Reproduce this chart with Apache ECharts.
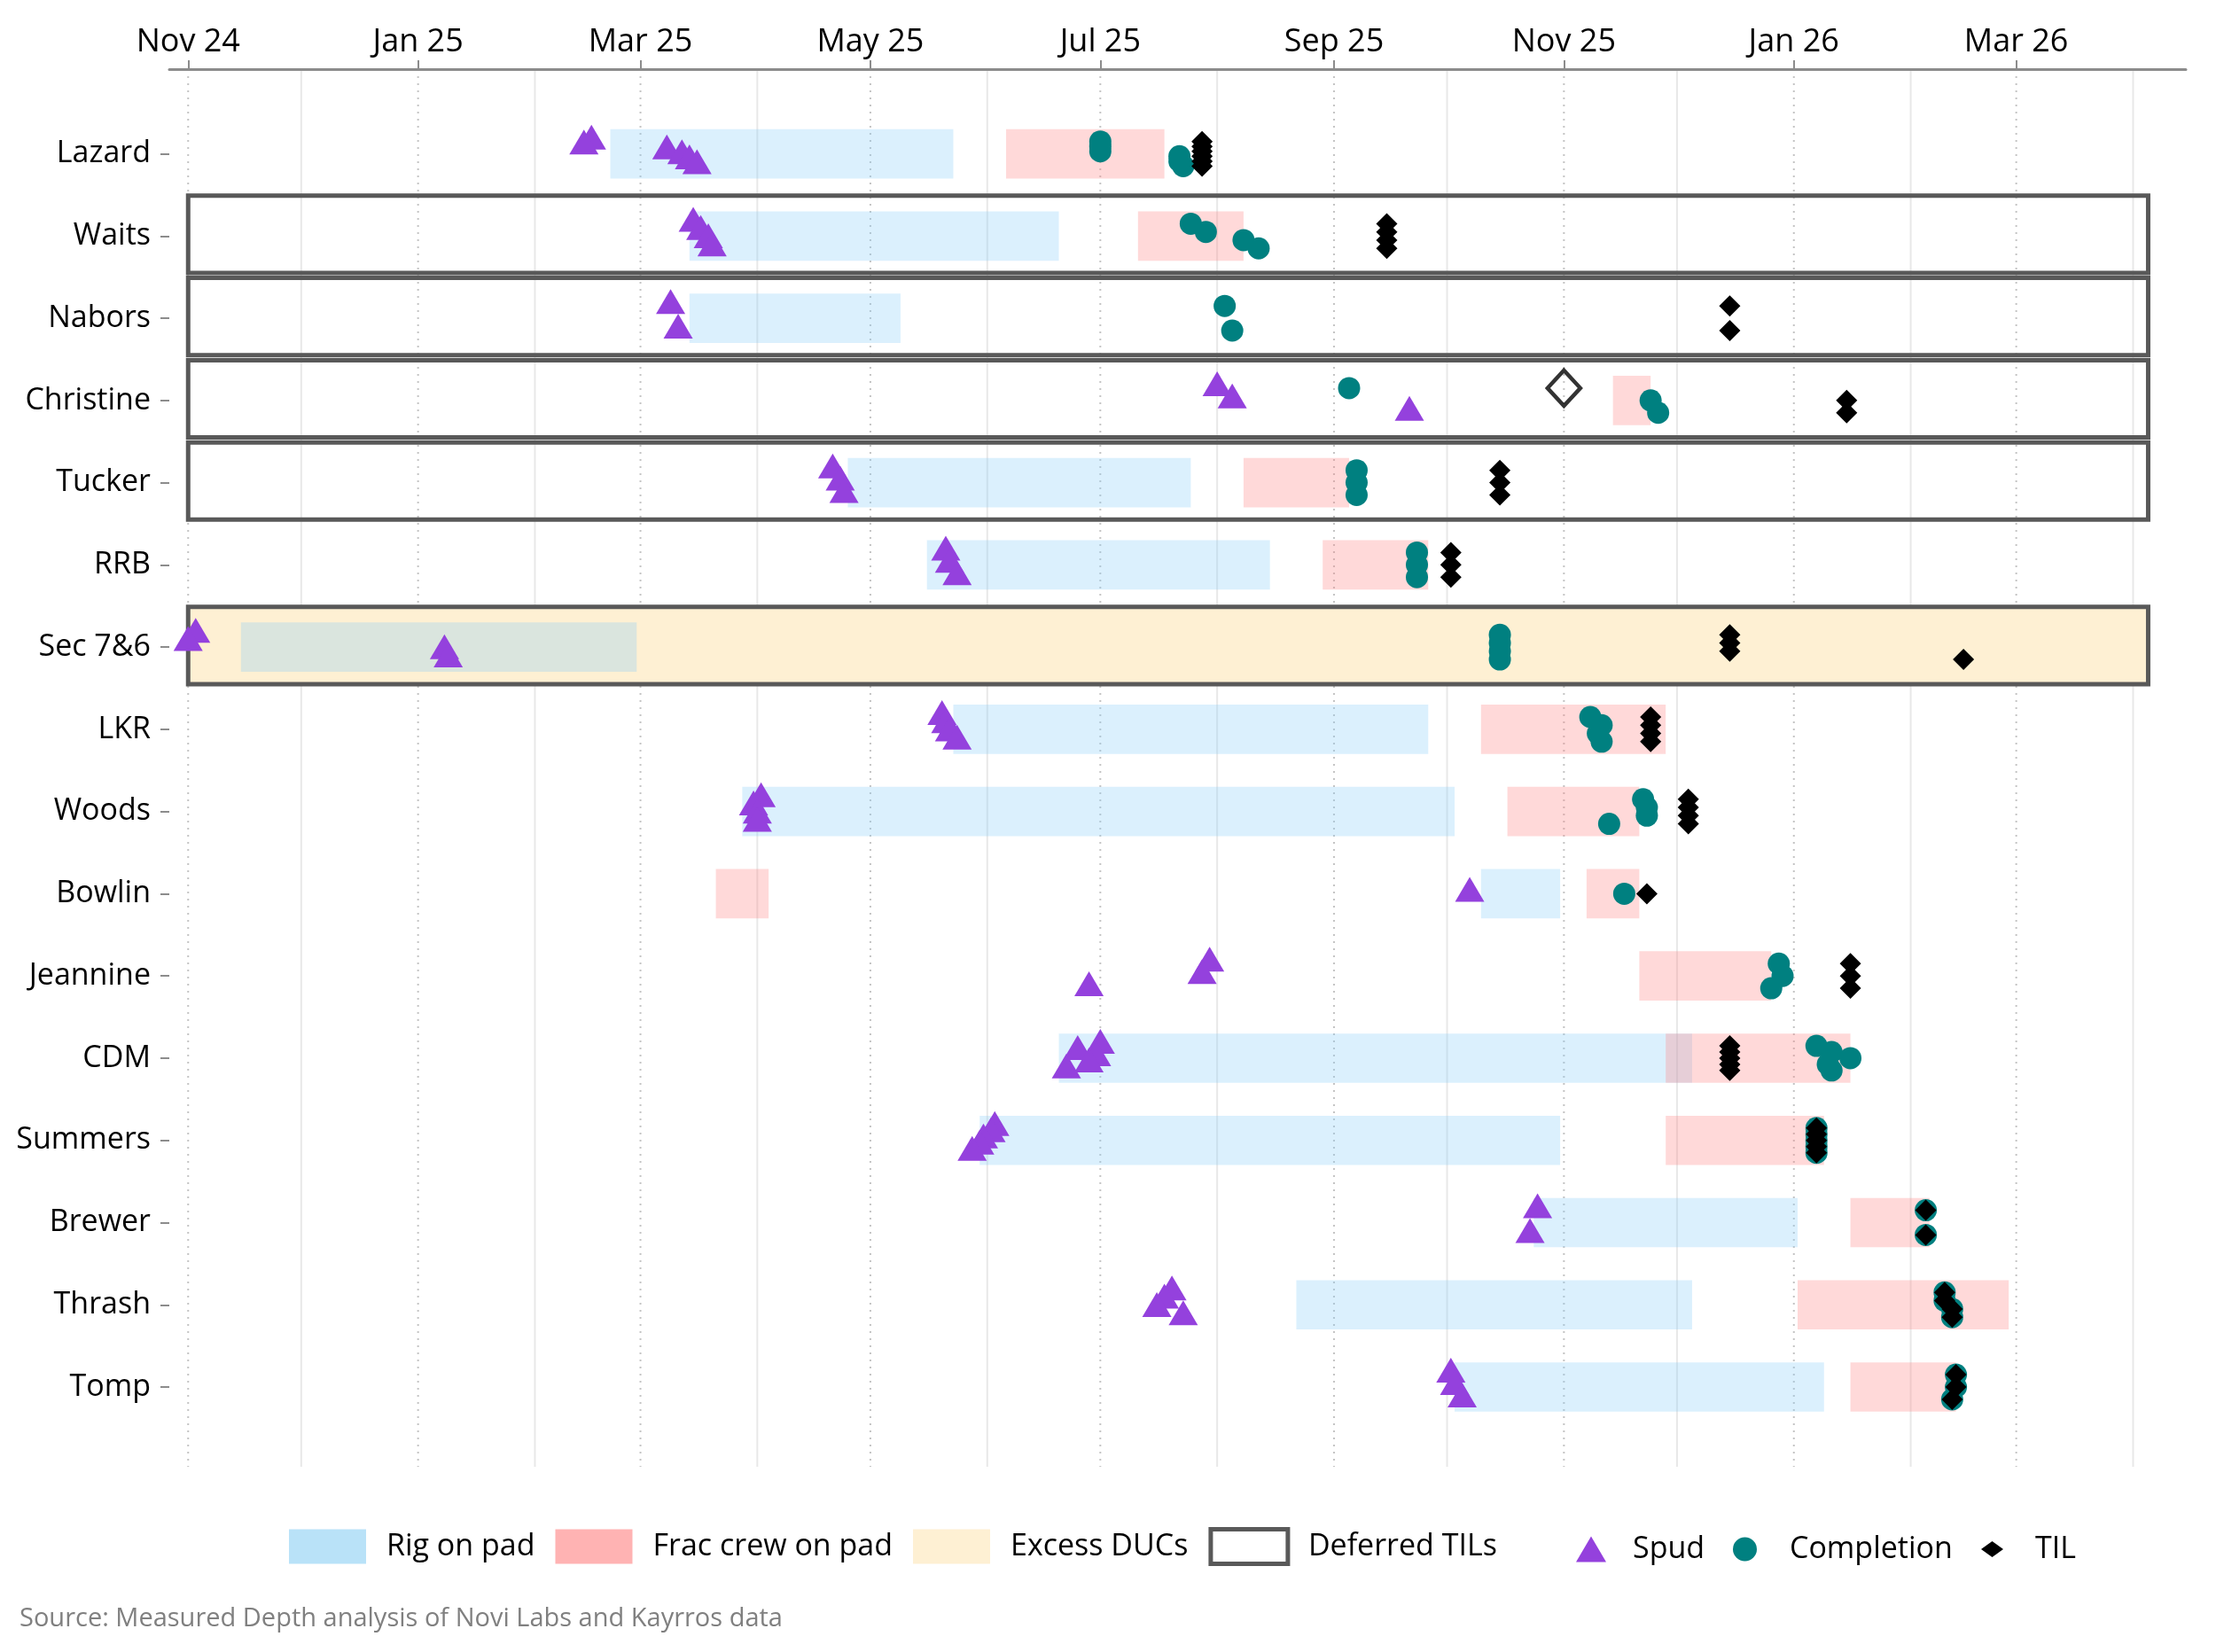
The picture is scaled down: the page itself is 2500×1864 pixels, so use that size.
<!DOCTYPE html>
<html>
<head>
<meta charset="utf-8">
<script src="https://cdn.jsdelivr.net/npm/echarts@6.0.0/dist/echarts.min.js"></script>
<style>
  html, body { margin: 0; padding: 0; background: #fff; }
  #main { width: 2500px; height: 1864px; }
</style>
</head>
<body>
<div id="main"></div>
<script>
// pads, top to bottom, and how many wells each pad has
var pads = ['Lazard', 'Waits', 'Nabors', 'Christine', 'Tucker', 'RRB', 'Sec 7&6', 'LKR',
            'Woods', 'Bowlin', 'Jeannine', 'CDM', 'Summers', 'Brewer', 'Thrash', 'Tomp'];
var wellCount = [6, 4, 2, 3, 3, 3, 4, 4, 4, 1, 3, 5, 5, 2, 4, 3];

// month ticks on the top axis and the in-between grid lines
var tickMonths = ['2024-11-01', '2025-01-01', '2025-03-01', '2025-05-01', '2025-07-01',
                  '2025-09-01', '2025-11-01', '2026-01-01', '2026-03-01'];
var minorMonths = ['2024-12-01', '2025-02-01', '2025-04-01', '2025-06-01', '2025-08-01',
                   '2025-10-01', '2025-12-01', '2026-02-01', '2026-04-01'];
var xRange = ['2024-10-27', '2026-04-15'];
var yRange = [-1.03, 15.97];

// [pad, start, end]
var rigOnPad = [
  ['Lazard', '2025-02-21', '2025-05-23'], ['Waits', '2025-03-14', '2025-06-20'],
  ['Nabors', '2025-03-14', '2025-05-09'], ['Tucker', '2025-04-25', '2025-07-25'],
  ['RRB', '2025-05-16', '2025-08-15'], ['Sec 7&6', '2024-11-15', '2025-02-28'],
  ['LKR', '2025-05-23', '2025-09-26'], ['Woods', '2025-03-28', '2025-10-03'],
  ['Bowlin', '2025-10-10', '2025-10-31'], ['CDM', '2025-06-20', '2025-12-05'],
  ['Summers', '2025-05-30', '2025-10-31'], ['Brewer', '2025-10-24', '2026-01-02'],
  ['Thrash', '2025-08-22', '2025-12-05'], ['Tomp', '2025-10-03', '2026-01-09']
];
var fracCrew = [
  ['Lazard', '2025-06-06', '2025-07-18'], ['Waits', '2025-07-11', '2025-08-08'],
  ['Christine', '2025-11-14', '2025-11-24'], ['Tucker', '2025-08-08', '2025-09-05'],
  ['RRB', '2025-08-29', '2025-09-26'], ['LKR', '2025-10-10', '2025-11-28'],
  ['Woods', '2025-10-17', '2025-11-21'], ['Bowlin', '2025-03-21', '2025-04-04'],
  ['Bowlin', '2025-11-07', '2025-11-21'], ['Jeannine', '2025-11-21', '2025-12-26'],
  ['CDM', '2025-11-28', '2026-01-16'], ['Summers', '2025-11-28', '2026-01-09'],
  ['Brewer', '2026-01-16', '2026-02-06'], ['Thrash', '2026-01-02', '2026-02-27'],
  ['Tomp', '2026-01-16', '2026-02-13']
];
var excessDUCs = ['Sec 7&6'];
var deferredTILs = ['Waits', 'Nabors', 'Christine', 'Tucker', 'Sec 7&6'];
var boxSpan = ['2024-11-01', '2026-04-05'];

// [pad, well, date]
var spud = [
  ['Lazard', 0, '2025-02-16'], ['Lazard', 1, '2025-02-14'], ['Lazard', 2, '2025-03-08'],
  ['Lazard', 3, '2025-03-12'], ['Lazard', 4, '2025-03-14'], ['Lazard', 5, '2025-03-16'],
  ['Waits', 0, '2025-03-15'], ['Waits', 1, '2025-03-17'], ['Waits', 2, '2025-03-19'], ['Waits', 3, '2025-03-20'],
  ['Nabors', 0, '2025-03-09'], ['Nabors', 1, '2025-03-11'],
  ['Christine', 0, '2025-08-01'], ['Christine', 1, '2025-08-05'], ['Christine', 2, '2025-09-21'],
  ['Tucker', 0, '2025-04-21'], ['Tucker', 1, '2025-04-23'], ['Tucker', 2, '2025-04-24'],
  ['RRB', 0, '2025-05-21'], ['RRB', 1, '2025-05-22'], ['RRB', 2, '2025-05-24'],
  ['Sec 7&6', 0, '2024-11-03'], ['Sec 7&6', 1, '2024-11-01'], ['Sec 7&6', 2, '2025-01-08'], ['Sec 7&6', 3, '2025-01-09'],
  ['LKR', 0, '2025-05-20'], ['LKR', 1, '2025-05-21'], ['LKR', 2, '2025-05-22'], ['LKR', 3, '2025-05-24'],
  ['Woods', 0, '2025-04-02'], ['Woods', 1, '2025-03-31'], ['Woods', 2, '2025-04-01'], ['Woods', 3, '2025-04-01'],
  ['Bowlin', 0, '2025-10-07'],
  ['Jeannine', 0, '2025-07-30'], ['Jeannine', 1, '2025-07-28'], ['Jeannine', 2, '2025-06-28'],
  ['CDM', 0, '2025-07-01'], ['CDM', 1, '2025-06-25'], ['CDM', 2, '2025-06-30'], ['CDM', 3, '2025-06-28'], ['CDM', 4, '2025-06-22'],
  ['Summers', 0, '2025-06-03'], ['Summers', 1, '2025-06-02'], ['Summers', 2, '2025-05-31'],
  ['Summers', 3, '2025-05-30'], ['Summers', 4, '2025-05-28'],
  ['Brewer', 0, '2025-10-25'], ['Brewer', 1, '2025-10-23'],
  ['Thrash', 0, '2025-07-20'], ['Thrash', 1, '2025-07-18'], ['Thrash', 2, '2025-07-16'], ['Thrash', 3, '2025-07-23'],
  ['Tomp', 0, '2025-10-02'], ['Tomp', 1, '2025-10-03'], ['Tomp', 2, '2025-10-05']
];
var completion = [
  ['Lazard', 0, '2025-07-01'], ['Lazard', 1, '2025-07-01'], ['Lazard', 2, '2025-07-01'],
  ['Lazard', 3, '2025-07-22'], ['Lazard', 4, '2025-07-22'], ['Lazard', 5, '2025-07-23'],
  ['Waits', 0, '2025-07-25'], ['Waits', 1, '2025-07-29'], ['Waits', 2, '2025-08-08'], ['Waits', 3, '2025-08-12'],
  ['Nabors', 0, '2025-08-03'], ['Nabors', 1, '2025-08-05'],
  ['Christine', 0, '2025-09-05'], ['Christine', 1, '2025-11-24'], ['Christine', 2, '2025-11-26'],
  ['Tucker', 0, '2025-09-07'], ['Tucker', 1, '2025-09-07'], ['Tucker', 2, '2025-09-07'],
  ['RRB', 0, '2025-09-23'], ['RRB', 1, '2025-09-23'], ['RRB', 2, '2025-09-23'],
  ['Sec 7&6', 0, '2025-10-15'], ['Sec 7&6', 1, '2025-10-15'], ['Sec 7&6', 2, '2025-10-15'], ['Sec 7&6', 3, '2025-10-15'],
  ['LKR', 0, '2025-11-08'], ['LKR', 1, '2025-11-11'], ['LKR', 2, '2025-11-10'], ['LKR', 3, '2025-11-11'],
  ['Woods', 0, '2025-11-22'], ['Woods', 1, '2025-11-23'], ['Woods', 2, '2025-11-23'], ['Woods', 3, '2025-11-13'],
  ['Bowlin', 0, '2025-11-17'],
  ['Jeannine', 0, '2025-12-28'], ['Jeannine', 1, '2025-12-29'], ['Jeannine', 2, '2025-12-26'],
  ['CDM', 0, '2026-01-07'], ['CDM', 1, '2026-01-11'], ['CDM', 2, '2026-01-16'], ['CDM', 3, '2026-01-10'], ['CDM', 4, '2026-01-11'],
  ['Summers', 0, '2026-01-07'], ['Summers', 1, '2026-01-07'], ['Summers', 2, '2026-01-07'],
  ['Summers', 3, '2026-01-07'], ['Summers', 4, '2026-01-07'],
  ['Brewer', 0, '2026-02-05'], ['Brewer', 1, '2026-02-05'],
  ['Thrash', 0, '2026-02-10'], ['Thrash', 1, '2026-02-10'], ['Thrash', 2, '2026-02-12'], ['Thrash', 3, '2026-02-12'],
  ['Tomp', 0, '2026-02-13'], ['Tomp', 1, '2026-02-13'], ['Tomp', 2, '2026-02-12']
];
var til = [
  ['Lazard', 0, '2025-07-28'], ['Lazard', 1, '2025-07-28'], ['Lazard', 2, '2025-07-28'],
  ['Lazard', 3, '2025-07-28'], ['Lazard', 4, '2025-07-28'], ['Lazard', 5, '2025-07-28'],
  ['Waits', 0, '2025-09-15'], ['Waits', 1, '2025-09-15'], ['Waits', 2, '2025-09-15'], ['Waits', 3, '2025-09-15'],
  ['Nabors', 0, '2025-12-15'], ['Nabors', 1, '2025-12-15'],
  ['Christine', 1, '2026-01-15'], ['Christine', 2, '2026-01-15'],
  ['Tucker', 0, '2025-10-15'], ['Tucker', 1, '2025-10-15'], ['Tucker', 2, '2025-10-15'],
  ['RRB', 0, '2025-10-02'], ['RRB', 1, '2025-10-02'], ['RRB', 2, '2025-10-02'],
  ['Sec 7&6', 0, '2025-12-15'], ['Sec 7&6', 1, '2025-12-15'], ['Sec 7&6', 2, '2025-12-15'], ['Sec 7&6', 3, '2026-02-15'],
  ['LKR', 0, '2025-11-24'], ['LKR', 1, '2025-11-24'], ['LKR', 2, '2025-11-24'], ['LKR', 3, '2025-11-24'],
  ['Woods', 0, '2025-12-04'], ['Woods', 1, '2025-12-04'], ['Woods', 2, '2025-12-04'], ['Woods', 3, '2025-12-04'],
  ['Bowlin', 0, '2025-11-23'],
  ['Jeannine', 0, '2026-01-16'], ['Jeannine', 1, '2026-01-16'], ['Jeannine', 2, '2026-01-16'],
  ['CDM', 0, '2025-12-15'], ['CDM', 1, '2025-12-15'], ['CDM', 2, '2025-12-15'], ['CDM', 3, '2025-12-15'], ['CDM', 4, '2025-12-15'],
  ['Summers', 0, '2026-01-07'], ['Summers', 1, '2026-01-07'], ['Summers', 2, '2026-01-07'],
  ['Summers', 3, '2026-01-07'], ['Summers', 4, '2026-01-07'],
  ['Brewer', 0, '2026-02-05'], ['Brewer', 1, '2026-02-05'],
  ['Thrash', 0, '2026-02-10'], ['Thrash', 1, '2026-02-10'], ['Thrash', 2, '2026-02-12'], ['Thrash', 3, '2026-02-12'],
  ['Tomp', 0, '2026-02-13'], ['Tomp', 1, '2026-02-13'], ['Tomp', 2, '2026-02-12']
];
var tilOpen = [['Christine', 0, '2025-11-01']];

var MON = ['Jan', 'Feb', 'Mar', 'Apr', 'May', 'Jun', 'Jul', 'Aug', 'Sep', 'Oct', 'Nov', 'Dec'];
var FONT = 'Open Sans';

function ts(d) { return Date.parse(d + 'T00:00:00Z'); }
function monLabel(v) {
  var d = new Date(v);
  return MON[d.getUTCMonth()] + ' ' + String(d.getUTCFullYear()).slice(2);
}
// wells of a pad are spread over a small band around the pad's row
function rowY(pad, well) {
  var r = pads.indexOf(pad), n = wellCount[r];
  return n > 1 ? r - 0.15 + 0.3 * well / (n - 1) : r;
}
function pts(list) {
  return list.map(function (e) { return [ts(e[2]), rowY(e[0], e[1])]; });
}
function spans(list) {
  return list.map(function (e) { return [ts(e[1]), ts(e[2]), pads.indexOf(e[0])]; });
}
function padBoxes(list) {
  return list.map(function (p) { return [ts(boxSpan[0]), ts(boxSpan[1]), pads.indexOf(p)]; });
}

// rectangle from start to end date, from row+top to row+bottom
function rectItem(top, bottom, stroke) {
  return function (params, api) {
    var a = api.coord([api.value(0), api.value(2) + top]);
    var b = api.coord([api.value(1), api.value(2) + bottom]);
    var style = stroke ? { fill: 'none', stroke: '#595959', lineWidth: 5 } : { fill: api.visual('color') };
    return { type: 'rect', shape: { x: a[0], y: a[1], width: b[0] - a[0], height: b[1] - a[1] }, style: style };
  };
}
function gridItem(dash, color) {
  return function (params, api) {
    var a = api.coord([api.value(0), yRange[0]]);
    var b = api.coord([api.value(0), yRange[1]]);
    return { type: 'line', shape: { x1: a[0], y1: a[1], x2: b[0], y2: b[1] },
             style: { stroke: color, lineWidth: 2, lineDash: dash } };
  };
}

var rowIdx = pads.map(function (p, i) { return i; });
var chart = echarts.init(document.getElementById('main'));

var option = {
  animation: false,
  backgroundColor: '#fff',
  textStyle: { fontFamily: FONT },
  grid: { left: 191, right: 34, top: 78, bottom: 209 },
  xAxis: {
    type: 'value', position: 'top',
    min: ts(xRange[0]), max: ts(xRange[1]),
    axisLine: { show: true, onZero: false, lineStyle: { color: '#8c8c8c', width: 3 } },
    axisTick: { show: true, customValues: tickMonths.map(ts), length: 10, lineStyle: { color: '#8c8c8c', width: 2 } },
    axisLabel: { customValues: tickMonths.map(ts), formatter: monLabel, margin: 12,
                 color: '#000', fontSize: 36, fontFamily: FONT },
    splitLine: { show: false }
  },
  yAxis: {
    type: 'value', inverse: true, min: yRange[0], max: yRange[1],
    axisLine: { show: false, onZero: false },
    axisTick: { show: true, customValues: rowIdx, length: 10, lineStyle: { color: '#8c8c8c', width: 2 } },
    axisLabel: { customValues: rowIdx, formatter: function (v) { return pads[Math.round(v)]; }, margin: 21,
                 color: '#000', fontSize: 34, fontFamily: FONT },
    splitLine: { show: false }
  },
  legend: [{
    left: 321, top: 1718, itemWidth: 87, itemHeight: 39, itemGap: 23, icon: 'rect',
    selectedMode: false,
    textStyle: { fontSize: 34, color: '#000', fontFamily: FONT, padding: [0, 0, 0, 18] },
    data: [
      { name: 'Rig on pad', itemStyle: { color: '#b9e2f8' } },
      { name: 'Frac crew on pad', itemStyle: { color: '#ffb3b3' } },
      { name: 'Excess DUCs', itemStyle: { color: '#fef0d3' } },
      { name: 'Deferred TILs', itemStyle: { color: '#ffffff', borderColor: '#595959', borderWidth: 5 } }
    ]
  }, {
    left: 1773, top: 1726, itemWidth: 34, itemHeight: 29, selectedMode: false,
    textStyle: { fontSize: 34, color: '#000', fontFamily: FONT, padding: [0, 0, 0, 25] },
    data: [{ name: 'Spud', icon: 'triangle' }]
  }, {
    left: 1950, top: 1726, itemWidth: 27, itemHeight: 27, selectedMode: false,
    textStyle: { fontSize: 34, color: '#000', fontFamily: FONT, padding: [0, 0, 0, 32] },
    data: [{ name: 'Completion', icon: 'circle' }]
  }, {
    left: 2230, top: 1726, itemWidth: 25, itemHeight: 18, selectedMode: false,
    textStyle: { fontSize: 34, color: '#000', fontFamily: FONT, padding: [0, 0, 0, 31] },
    data: [{ name: 'TIL', icon: 'diamond' }]
  }],
  graphic: [{
    type: 'text', left: 22, top: 1812,
    style: { text: 'Source: Measured Depth analysis of Novi Labs and Kayrros data',
             fill: '#808080', fontSize: 29, fontFamily: FONT }
  }],
  series: [
    { type: 'custom', name: 'minor grid', silent: true, z: 0, renderItem: gridItem(null, '#e8e8e8'),
      encode: { x: 0 }, data: minorMonths.map(function (d) { return [ts(d)]; }) },
    { type: 'custom', name: 'major grid', silent: true, z: 0, renderItem: gridItem([2, 6], '#c4c4c4'),
      encode: { x: 0 }, data: tickMonths.map(function (d) { return [ts(d)]; }) },
    { type: 'custom', name: 'Excess DUCs', z: 1, silent: true, renderItem: rectItem(-0.49, 0.45, false),
      itemStyle: { color: '#fef0d3' }, encode: { x: [0, 1], y: 2 }, data: padBoxes(excessDUCs) },
    { type: 'custom', name: 'Rig on pad', z: 2, silent: true, renderItem: rectItem(-0.3, 0.3, false),
      itemStyle: { color: 'rgba(135,206,250,0.3)' }, encode: { x: [0, 1], y: 2 }, data: spans(rigOnPad) },
    { type: 'custom', name: 'Frac crew on pad', z: 2, silent: true, renderItem: rectItem(-0.3, 0.3, false),
      itemStyle: { color: 'rgba(255,128,128,0.3)' }, encode: { x: [0, 1], y: 2 }, data: spans(fracCrew) },
    { type: 'custom', name: 'Deferred TILs', z: 3, silent: true, renderItem: rectItem(-0.49, 0.45, true),
      itemStyle: { color: '#595959' }, encode: { x: [0, 1], y: 2 }, data: padBoxes(deferredTILs) },
    { type: 'scatter', name: 'Spud', z: 5, silent: true, symbol: 'triangle', symbolSize: [33, 28],
      symbolOffset: [0, -5], itemStyle: { color: '#9441dd', opacity: 1 }, data: pts(spud) },
    { type: 'scatter', name: 'Completion', z: 6, silent: true, symbol: 'circle', symbolSize: 25,
      itemStyle: { color: '#008080', opacity: 1 }, data: pts(completion) },
    { type: 'scatter', name: 'TIL', z: 7, silent: true, symbol: 'diamond', symbolSize: [24, 24],
      itemStyle: { color: '#000000', opacity: 1 }, data: pts(til) },
    { type: 'scatter', name: 'TIL (open)', z: 7, silent: true, symbol: 'diamond', symbolSize: [37, 40],
      itemStyle: { color: 'rgba(0,0,0,0)', borderColor: '#000', borderWidth: 4.5 }, data: pts(tilOpen) }
  ]
};
chart.setOption(option);
</script>
</body>
</html>
